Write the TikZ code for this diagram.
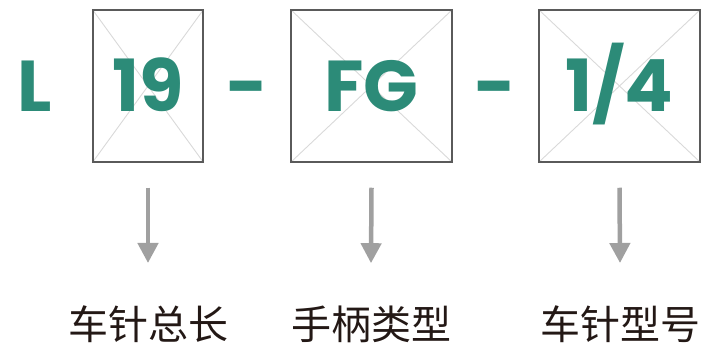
\documentclass[tikz,border=0pt]{standalone}
\usepackage{fontspec}
\usetikzlibrary{arrows.meta,backgrounds}
\newfontfamily\codefont{Poppins}
\newfontfamily\cjk{Noto Sans CJK SC}
\definecolor{codegreen}{HTML}{2C8B78}
\definecolor{framegray}{HTML}{5A5A5A}
\definecolor{crossgray}{HTML}{D9D9D9}
\definecolor{arrowgray}{HTML}{A0A0A0}
\definecolor{inkdark}{HTML}{231815}
\begin{document}
\begin{tikzpicture}[x=1pt,y=-1pt,
  codesty/.style={text=codegreen,anchor=base,inner sep=0pt,
    font=\codefont\bfseries\fontsize{72}{72}\selectfont},
  field/.style={draw=framegray,line width=1.5pt,minimum height=152pt,
    inner sep=0pt,text height=52pt,text depth=0pt,text=codegreen,
    font=\codefont\bfseries\fontsize{72}{72}\selectfont},
  cross/.style={draw=crossgray,line width=0.9pt},
  pointer/.style={draw=arrowgray,line width=4.5pt,
    -{Triangle[width=20pt,length=20pt]}},
  labelsty/.style={text=inkdark,anchor=base,inner sep=0pt,
    font=\cjk\fontsize{40}{40}\selectfont}]

  \useasboundingbox (0,0) rectangle (703,344);

  % code letters
  \node[codesty] (prefix) at (35,112) {L};
  \node[field,minimum width=110pt] (len) at (148,86) {19};
  \node[codesty] (dasha) at (247,112) {-};
  \node[field,minimum width=161pt] (grip) at (371.5,86) {FG};
  \node[codesty] (dashb) at (495.5,112) {-};
  \node[field,minimum width=161pt] (size) at (619.5,86) {1/4};

  % crosses behind the text
  \begin{scope}[on background layer]
  \foreach \f in {len,grip,size}{
    \draw[cross] (\f.north west) -- (\f.south east);
    \draw[cross] (\f.north east) -- (\f.south west);
  }
  \end{scope}

  % meanings
  \node[labelsty] (lenlab) at (148,339) {车针总长};
  \node[labelsty] (griplab) at (371,339) {手柄类型};
  \node[labelsty] (sizelab) at (620,339) {车针型号};

  \draw[pointer] ([yshift=-25pt]len.south) -- ([yshift=42pt]lenlab.north);
  \draw[pointer] ([yshift=-25pt]grip.south) -- ([yshift=42pt]griplab.north);
  \draw[pointer] ([yshift=-25pt]size.south) -- ([yshift=42pt]sizelab.north);

\end{tikzpicture}
\end{document}
